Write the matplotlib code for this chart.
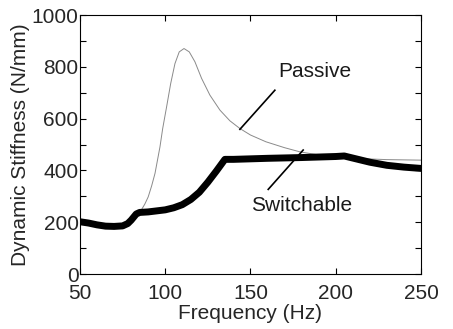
import matplotlib
matplotlib.use('Agg')
import matplotlib.pyplot as plt
from matplotlib.ticker import MultipleLocator

plt.rcParams['font.family'] = ['Liberation Sans', 'DejaVu Sans']

# switchable mount (thick black)
sw_freq = [50, 55, 60, 65, 70, 75, 78, 80, 83, 85, 90, 95, 100, 105, 110, 115, 120,
           125, 130, 135, 140, 160, 180, 200, 205, 210, 220, 230, 240, 250]
sw_stiff = [202, 197, 190, 185, 184, 186, 195, 208, 232, 238, 240, 244, 248, 256, 268,
            288, 316, 355, 398, 443, 443, 447, 450, 454, 456, 448, 432, 420, 413, 408]

# passive mount (thin grey)
pa_freq = [50, 55, 60, 65, 70, 75, 78, 80, 83, 86.2, 88, 90, 92, 94, 96.9, 98.5, 100.8,
           103.2, 105.7, 108.2, 111, 114.1, 117.4, 121.3, 126.2, 132.1, 137.9, 143.8,
           150, 159, 170, 179, 190, 198, 210, 230, 250]
pa_stiff = [202, 197, 190, 185, 184, 186, 195, 208, 232, 250, 270, 298, 340, 389, 491,
            562, 646, 736, 813, 858, 871, 858, 820, 756, 691, 633, 592, 562,
            537, 511, 488, 472, 460, 453, 447, 442, 440]

fig = plt.figure(figsize=(4.53, 3.29), dpi=100)
ax = fig.add_axes([0.1766, 0.167, 0.7527, 0.787])

ax.plot(pa_freq, pa_stiff, color='#8a8a8a', lw=0.7)
ax.plot(sw_freq, sw_stiff, color='black', lw=5, solid_capstyle='round')

# label leaders
ax.plot([164.3, 143.8], [710, 559], color='black', lw=1.2)
ax.plot([160.4, 180.9], [327, 479], color='black', lw=1.2)
ax.text(187.7, 784, 'Passive', fontsize=15, ha='center', va='center', color='#1a1a1a')
ax.text(180.1, 266, 'Switchable', fontsize=15, ha='center', va='center', color='#1a1a1a')

ax.set_xlim(50, 250)
ax.set_ylim(0, 1000)
ax.set_xticks([50, 100, 150, 200, 250])
ax.yaxis.set_major_locator(MultipleLocator(200))
ax.yaxis.set_minor_locator(MultipleLocator(100))
ax.tick_params(which='both', direction='in', top=True, right=True, length=4,
               width=0.8, labelsize=15, labelcolor='#262626')
ax.tick_params(axis='y', pad=1)
ax.tick_params(axis='x', pad=7)
ax.set_xlabel('Frequency (Hz)', fontsize=15, color='#262626', labelpad=1)
ax.set_ylabel('Dynamic Stiffness (N/mm)', fontsize=15, color='#262626', labelpad=1)
for lab in ax.get_yticklabels():
    lab.set_va('center_baseline')

fig.savefig('out.png', dpi=100)
